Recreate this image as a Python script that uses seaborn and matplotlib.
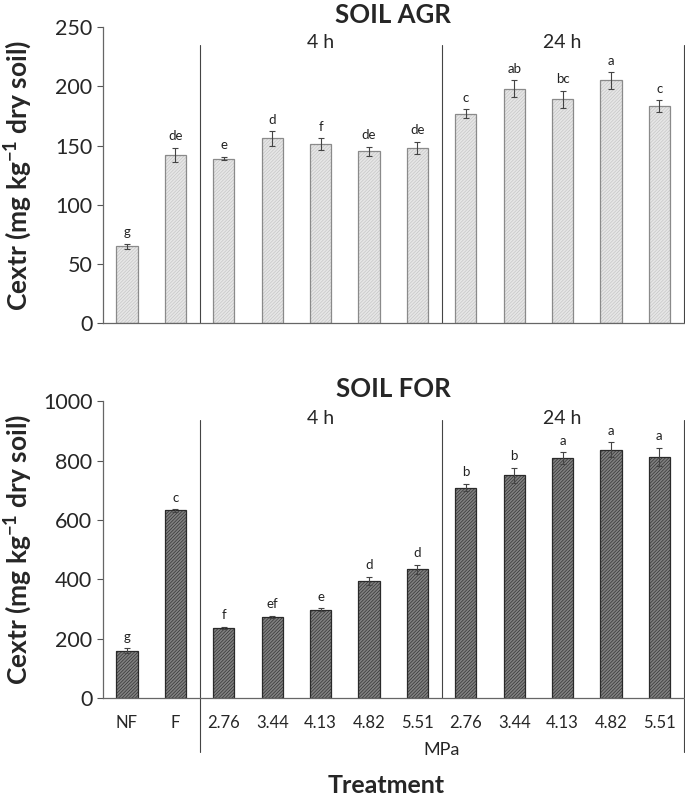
import matplotlib
matplotlib.use("Agg")
import matplotlib.pyplot as plt
import seaborn as sns
import pandas as pd

# treatment ids (unique) and the labels printed under the bars
treatments = ["NF", "F", "4h_2.76", "4h_3.44", "4h_4.13", "4h_4.82", "4h_5.51",
              "24h_2.76", "24h_3.44", "24h_4.13", "24h_4.82", "24h_5.51"]
tick_labels = ["NF", "F", "2.76", "3.44", "4.13", "4.82", "5.51",
               "2.76", "3.44", "4.13", "4.82", "5.51"]

# SOIL AGR
agr_mean = [65, 142, 139, 156, 151, 145, 148, 177, 198, 189, 205, 183]
agr_err = [2, 6, 1.5, 6, 5, 4, 5, 3.5, 7, 7, 7, 5]
agr_letters = ["g", "de", "e", "d", "f", "de", "de", "c", "ab", "bc", "a", "c"]

# SOIL FOR
for_mean = [160, 632, 237, 273, 297, 395, 434, 709, 750, 808, 837, 813]
for_err = [8, 4, 3, 4, 5, 13, 15, 13, 25, 20, 25, 30]
for_letters = ["g", "c", "f", "ef", "e", "d", "d", "b", "b", "a", "a", "a"]

sns.set_style("ticks")
plt.rcParams['font.family'] = ['Lato', 'DejaVu Sans']
plt.rcParams['mathtext.default'] = 'regular'
plt.rcParams['hatch.linewidth'] = 0.45

fig = plt.figure(figsize=(6.85, 7.96), dpi=100)
ax1 = fig.add_axes([0.150, 0.594, 0.848, 0.372])
ax2 = fig.add_axes([0.150, 0.123, 0.848, 0.373])


def panel(ax, mean, err, letters, face, hatch_col, edge, hatch, ymax, step, title, sep_top, txt_y):
    df = pd.DataFrame({"trt": treatments, "val": mean})
    sns.barplot(data=df, x="trt", y="val", order=treatments, color=face,
                width=0.44, ax=ax, errorbar=None, saturation=1)
    for p in ax.patches:
        # hatch takes the edge colour, so draw the outline again on top
        p.set_facecolor(face)
        p.set_edgecolor(hatch_col)
        p.set_hatch(hatch)
        p.set_linewidth(0)
        outline = plt.Rectangle(p.get_xy(), p.get_width(), p.get_height(),
                                fill=False, edgecolor=edge, lw=0.9, zorder=p.get_zorder() + 0.1)
        ax.add_patch(outline)
    xs = list(range(len(treatments)))
    ax.errorbar(xs, mean, yerr=err, fmt="none", ecolor="#444444",
                elinewidth=0.8, capsize=2.5, capthick=0.8, zorder=5)
    for x, m, e, l in zip(xs, mean, err, letters):
        ax.annotate(l, (x, m + e), xytext=(0, 4), textcoords="offset points",
                    ha="center", va="bottom", fontsize=9.5, color="#222222")
    ax.set_xlim(-0.5, 11.5)
    ax.set_ylim(0, ymax)
    ax.set_yticks(range(0, ymax + 1, step))
    ax.tick_params(axis="y", labelsize=15.5, length=4, color="#555555", width=0.8)
    ax.tick_params(axis="x", length=0)
    for s in ["top", "right"]:
        ax.spines[s].set_visible(False)
    for s in ["left", "bottom"]:
        ax.spines[s].set_color("#666666")
        ax.spines[s].set_linewidth(0.9)
    # group separators
    for xv in [1.5, 6.5, 11.5]:
        ax.plot([xv, xv], [0, sep_top], color="#444444", lw=0.8, clip_on=False)
    ax.text(4.0, txt_y, "4 h", ha="center", va="center", fontsize=14)
    ax.text(9.0, txt_y, "24 h", ha="center", va="center", fontsize=14)
    ax.set_title(title, fontsize=18.5, fontweight="bold", pad=2)
    ax.set_ylabel("Cextr (mg kg$^{-1}$ dry soil)", fontsize=19, fontweight="bold")
    ax.yaxis.set_label_coords(-0.118, 0.5)
    ax.set_xlabel("")


panel(ax1, agr_mean, agr_err, agr_letters, "#e6e6e6", "#c4c4c4", "#8a8a8a",
      "//////////", 250, 50, "SOIL AGR", 235, 237)
ax1.set_xticklabels([])

panel(ax2, for_mean, for_err, for_letters, "#808080", "#2e2e2e", "#2a2a2a",
      "//////////", 1000, 200, "SOIL FOR", 936, 940)
ax2.set_xticks(range(len(treatments)))
ax2.set_xticklabels(tick_labels, fontsize=12)
ax2.tick_params(axis="x", pad=12)
# lines under the axis through the tick label row
for xv in [1.5, 11.5]:
    ax2.plot([xv, xv], [0, -180], color="#444444", lw=0.8, clip_on=False)
ax2.text(6.5, -175, "MPa", ha="center", va="center", fontsize=13)
ax2.text(5.35, -295, "Treatment", ha="center", va="center", fontsize=18,
         fontweight="bold")

fig.savefig("out.png", dpi=100)
